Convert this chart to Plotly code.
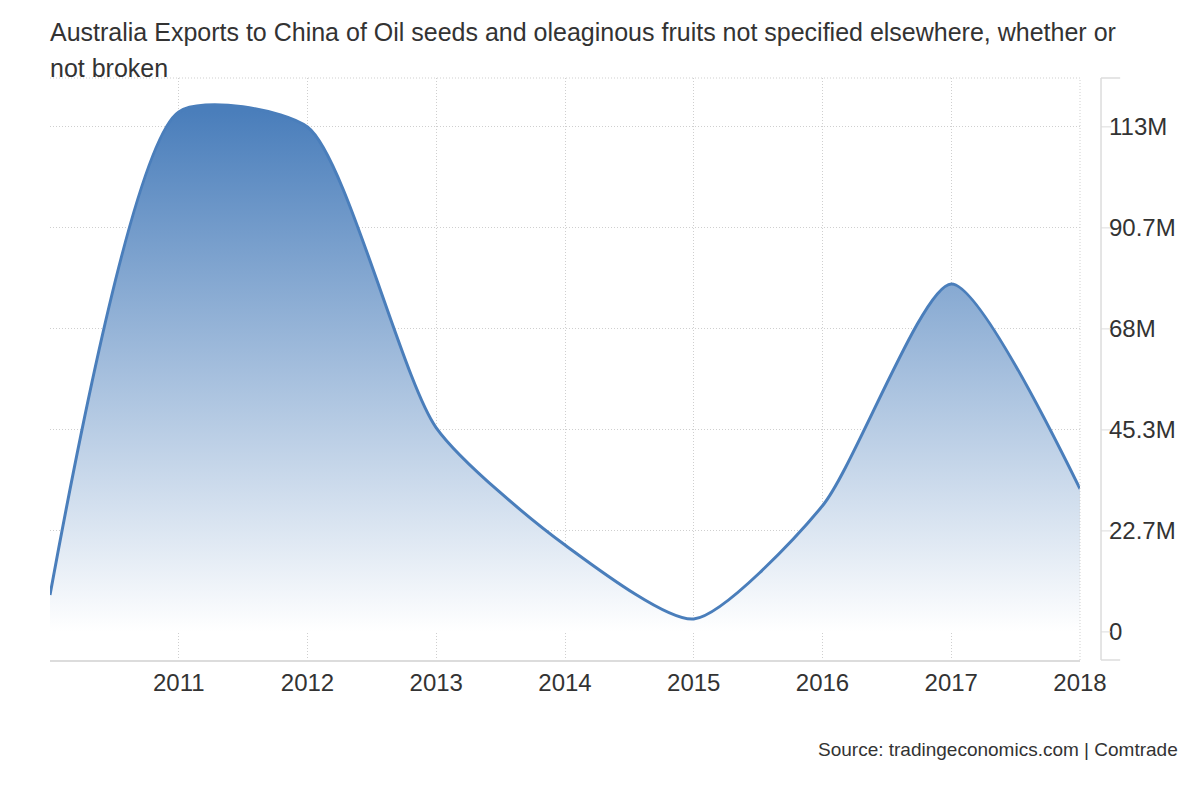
import plotly.graph_objects as go

years = [2010, 2011, 2012, 2013, 2014, 2015, 2016, 2017, 2018]
exports = [8.3e6, 116.7e6, 113.3e6, 45.8e6, 19.5e6, 2.9e6, 28.3e6, 78.1e6, 32.1e6]

y_tickvals = [0, 22.667e6, 45.333e6, 68e6, 90.667e6, 113.333e6]
y_ticktext = ["0", "22.7M", "45.3M", "68M", "90.7M", "113M"]
x_tickvals = [2011, 2012, 2013, 2014, 2015, 2016, 2017, 2018]

LINE = "#4a7ebb"
GRID = "#cfcfcf"
AXIS = "#dcdcdc"
TEXT = "#333333"
DOTS = "1px,2px"

fig = go.Figure()
fig.add_trace(go.Scatter(
    x=years, y=exports, mode="lines",
    line=dict(color=LINE, width=3, shape="spline", smoothing=0.65),
    fill="tozeroy",
    fillgradient=dict(type="vertical",
                      colorscale=[[0, "rgba(255,255,255,1)"], [1, "rgba(74,126,187,1)"]],
                      start=0, stop=max(exports)),
    hoverinfo="x+y", showlegend=False,
))

# right-hand axis line with small ticks, plus dotted top/right border
shapes = [
    dict(type="line", xref="paper", yref="paper", x0=1.0204, x1=1.0204, y0=0, y1=1,
         line=dict(color=AXIS, width=1.5)),
    dict(type="line", xref="paper", yref="paper", x0=1.0204, x1=1.039, y0=1, y1=1,
         line=dict(color=AXIS, width=1.5)),
    dict(type="line", xref="paper", yref="paper", x0=1.0204, x1=1.039, y0=0, y1=0,
         line=dict(color=AXIS, width=1.5)),
    dict(type="line", xref="paper", yref="paper", x0=0, x1=1, y0=1, y1=1,
         line=dict(color=GRID, width=1, dash=DOTS)),
    dict(type="line", xref="paper", yref="paper", x0=1, x1=1, y0=0, y1=1,
         line=dict(color=GRID, width=1, dash=DOTS)),
]
for v in y_tickvals:
    shapes.append(dict(type="line", xref="paper", yref="y", x0=1.0204, x1=1.03, y0=v, y1=v,
                       line=dict(color=AXIS, width=1)))

fig.update_layout(
    width=1200, height=800,
    margin=dict(l=42, r=128, t=70, b=148),
    paper_bgcolor="white", plot_bgcolor="white",
    font=dict(family="Liberation Sans, Arial, sans-serif", color=TEXT),
    shapes=shapes,
    xaxis=dict(range=[2010, 2018], tickvals=x_tickvals, ticks="",
               showgrid=True, gridcolor=GRID, griddash=DOTS, gridwidth=1,
               showline=True, linecolor=AXIS, linewidth=1.5,
               zeroline=False, tickfont=dict(size=24, color=TEXT)),
    yaxis=dict(range=[-6.3e6, 124.3e6], side="right", tickvals=y_tickvals, ticktext=y_ticktext,
               showgrid=True, gridcolor=GRID, griddash=DOTS, gridwidth=1,
               zeroline=False, showline=False, ticks="", ticklabelstandoff=28,
               tickfont=dict(size=24, color=TEXT)),
    annotations=[
        dict(text="Australia Exports to China of Oil seeds and oleaginous fruits not specified elsewhere, whether or",
             xref="paper", yref="paper", x=-0.002, y=1, xanchor="left", yanchor="middle",
             yshift=46, showarrow=False, font=dict(size=25, color=TEXT)),
        dict(text="not broken",
             xref="paper", yref="paper", x=-0.002, y=1, xanchor="left", yanchor="middle",
             yshift=10, showarrow=False, font=dict(size=25, color=TEXT)),
        dict(text="Source: tradingeconomics.com | Comtrade",
             xref="paper", yref="paper", x=1.0971, y=0, xanchor="right", yanchor="middle",
             yshift=-89, showarrow=False, font=dict(size=19, color=TEXT)),
    ],
)

fig.write_html("out.html")
